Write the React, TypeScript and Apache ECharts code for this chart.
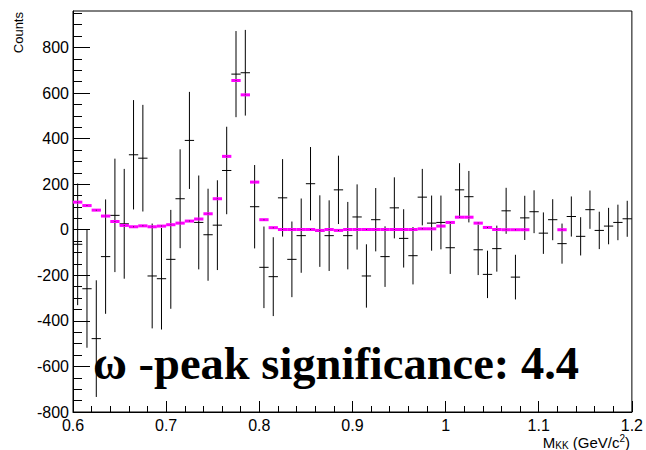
import React, { useEffect, useRef } from "react";
import * as echarts from "echarts";

// Bin centres (GeV/c^2), 60 bins of width 0.01 from 0.6 to 1.2
const binCenters = [
  0.605, 0.615, 0.625, 0.635, 0.645, 0.655, 0.665, 0.675, 0.685, 0.695,
  0.705, 0.715, 0.725, 0.735, 0.745, 0.755, 0.765, 0.775, 0.785, 0.795,
  0.805, 0.815, 0.825, 0.835, 0.845, 0.855, 0.865, 0.875, 0.885, 0.895,
  0.905, 0.915, 0.925, 0.935, 0.945, 0.955, 0.965, 0.975, 0.985, 0.995,
  1.005, 1.015, 1.025, 1.035, 1.045, 1.055, 1.065, 1.075, 1.085, 1.095,
  1.105, 1.115, 1.125, 1.135, 1.145, 1.155, 1.165, 1.175, 1.185, 1.195,
];
const BIN_WIDTH = 0.01;

// Measured counts (black points)
const counts = [
  -64, -259, -478, -118, 63, 26, 329, 314, -203, -215,
  -130, 136, 392, 32, -22, 20, 260, 683, 689, 101,
  -165, -206, 140, -130, -26, 202, -6, -26, 175, -26,
  56, -203, 44, -118, 96, -38, -114, 143, 29, 32,
  -79, 175, 145, -88, -196, -83, 83, -208, 52, 79,
  -15, 44, -61, 58, -29, 88, -3, 16, 32, 48,
];

// Statistical errors of the counts
const errors = [
  267, 259, 256, 251, 249, 241, 240, 234, 230, 223,
  217, 217, 213, 206, 202, 197, 192, 189, 188, 183,
  179, 173, 170, 166, 163, 161, 157, 155, 150, 148,
  143, 139, 139, 133, 134, 128, 126, 124, 121, 118,
  115, 117, 113, 111, 104, 101, 101, 98, 97, 94,
  91, 90, 88, 88, 84, 84, 82, 80, 78, 79,
];

// Model histogram (magenta); null = not drawn
const model: (number | null)[] = [
  121, 106, 86, 60, 36, 19, 13, 17, 13, 16,
  22, 29, 38, 47, 70, 136, 322, 655, 592, 209,
  44, 9, 1, 1, 1, 1, -3, 1, -3, 1,
  1, 1, 1, 1, 1, 1, 1, 4, 4, 16,
  32, 55, 55, 29, 10, 1, 0, 0, 0, null,
  null, null, 0, null, null, null, null, null, null, null,
];

const xMajorTicks = [0.6, 0.7, 0.8, 0.9, 1.0, 1.1, 1.2];
const xMinorTicks = [
  0.62, 0.64, 0.66, 0.68, 0.72, 0.74, 0.76, 0.78, 0.82, 0.84, 0.86, 0.88,
  0.92, 0.94, 0.96, 0.98, 1.02, 1.04, 1.06, 1.08, 1.12, 1.14, 1.16, 1.18,
];
const yMajorTicks = [-800, -600, -400, -200, 0, 200, 400, 600, 800];
const yMinorTicks = [
  -750, -700, -650, -550, -500, -450, -350, -300, -250, -150, -100, -50,
  50, 100, 150, 250, 300, 350, 450, 500, 550, 650, 700, 750, 850, 900, 950,
];

const X_MIN = 0.6;
const X_MAX = 1.2;
const Y_MIN = -800;
const Y_MAX = 960;

const labelFont = "Liberation Sans";

// x-axis title pieces: [text, role]
const xTitleParts: [string, "main" | "sub" | "sup"][] = [
  ["M", "main"],
  ["KK", "sub"],
  [" (GeV/c", "main"],
  ["2", "sup"],
  [")", "main"],
];

export default function App() {
  const ref = useRef<HTMLDivElement>(null);

  useEffect(() => {
    if (!ref.current) return;
    const chart = echarts.init(ref.current, undefined, { renderer: "svg" });

    const pointData = binCenters.map((x, i) => [x, counts[i], errors[i]]);
    const modelData = binCenters
      .map((x, i) => [x, model[i]])
      .filter((d) => d[1] !== null);

    const xFmt = (v: number) => String(parseFloat(Number(v).toFixed(2)));

    // lay out the x title (right-aligned) with measured widths
    const MAIN_SIZE = 15;
    const SMALL_SIZE = 10;
    const TITLE_RIGHT = 630;
    const MAIN_Y = 442;
    const canvas = document.createElement("canvas");
    const ctx = canvas.getContext("2d");
    const measure = (t: string, size: number) => {
      if (!ctx) return t.length * size * 0.55;
      ctx.font = `${size}px "${labelFont}"`;
      return ctx.measureText(t).width;
    };
    const sizes = xTitleParts.map(([t, r]) => (r === "main" ? MAIN_SIZE : SMALL_SIZE));
    const widths = xTitleParts.map(([t], i) => measure(t, sizes[i]));
    const total = widths.reduce((a, b) => a + b, 0);
    let cursor = TITLE_RIGHT - total;
    const titleElems = xTitleParts.map(([t, r], i) => {
      const el = {
        type: "text",
        x: cursor,
        y: r === "main" ? MAIN_Y : r === "sub" ? MAIN_Y + 3.5 : MAIN_Y - 4,
        style: {
          text: t,
          fontFamily: labelFont,
          fontSize: sizes[i],
          fill: "#000",
          align: "left",
          verticalAlign: "middle",
        },
      };
      cursor += widths[i];
      return el;
    });

    const option: any = {
      animation: false,
      backgroundColor: "#ffffff",
      grid: {
        left: 73,
        right: 14,
        top: 11,
        bottom: 38,
        show: true,
        borderColor: "#000",
        borderWidth: 1,
        backgroundColor: "transparent",
      },
      xAxis: [
        {
          type: "value",
          min: X_MIN,
          max: X_MAX,
          interval: 0.1,
          position: "bottom",
          axisLine: { show: true, onZero: false, lineStyle: { color: "#000", width: 1 } },
          axisTick: {
            show: true,
            inside: true,
            length: 11,
            customValues: xMajorTicks,
            lineStyle: { color: "#000", width: 1 },
          },
          axisLabel: {
            show: true,
            customValues: xMajorTicks,
            formatter: xFmt,
            fontFamily: labelFont,
            fontSize: 16,
            lineHeight: 14,
            color: "#000",
            margin: 6,
            showMinLabel: true,
            showMaxLabel: true,
          },
          splitLine: { show: false },
        },
        {
          type: "value",
          min: X_MIN,
          max: X_MAX,
          position: "bottom",
          axisLine: { show: false, onZero: false },
          axisTick: {
            show: true,
            inside: true,
            length: 6,
            customValues: xMinorTicks,
            lineStyle: { color: "#000", width: 1 },
          },
          axisLabel: { show: false },
          splitLine: { show: false },
        },
      ],
      yAxis: [
        {
          type: "value",
          min: Y_MIN,
          max: Y_MAX,
          position: "left",
          axisLine: { show: true, onZero: false, lineStyle: { color: "#000", width: 1 } },
          axisTick: {
            show: true,
            inside: true,
            length: 17,
            customValues: yMajorTicks,
            lineStyle: { color: "#000", width: 1 },
          },
          axisLabel: {
            show: true,
            customValues: yMajorTicks,
            fontFamily: labelFont,
            fontSize: 16,
            color: "#000",
            margin: 4,
          },
          splitLine: { show: false },
        },
        {
          type: "value",
          min: Y_MIN,
          max: Y_MAX,
          position: "left",
          axisLine: { show: false, onZero: false },
          axisTick: {
            show: true,
            inside: true,
            length: 9,
            customValues: yMinorTicks,
            lineStyle: { color: "#000", width: 1 },
          },
          axisLabel: { show: false },
          splitLine: { show: false },
        },
      ],
      series: [
        {
          type: "custom",
          name: "data",
          xAxisIndex: 0,
          yAxisIndex: 0,
          encode: { x: 0, y: 1 },
          data: pointData,
          z: 2,
          renderItem: (params: any, api: any) => {
            const x = api.value(0);
            const y = api.value(1);
            const e = api.value(2);
            const halfW = api.size([BIN_WIDTH, 0])[0] / 2;
            const c = api.coord([x, y]);
            const top = api.coord([x, y + e]);
            const bot = api.coord([x, y - e]);
            const style = { stroke: "#000", lineWidth: 1, fill: null };
            return {
              type: "group",
              children: [
                {
                  type: "line",
                  shape: { x1: c[0], y1: top[1], x2: c[0], y2: bot[1] },
                  style,
                },
                {
                  type: "line",
                  shape: { x1: c[0] - halfW, y1: c[1], x2: c[0] + halfW, y2: c[1] },
                  style,
                },
              ],
            };
          },
        },
        {
          type: "custom",
          name: "model",
          xAxisIndex: 0,
          yAxisIndex: 0,
          encode: { x: 0, y: 1 },
          data: modelData,
          z: 3,
          renderItem: (params: any, api: any) => {
            const x = api.value(0);
            const y = api.value(1);
            const halfW = api.size([BIN_WIDTH, 0])[0] / 2;
            const c = api.coord([x, y]);
            return {
              type: "group",
              children: [
                {
                  type: "line",
                  shape: { x1: c[0] - halfW, y1: c[1], x2: c[0] + halfW, y2: c[1] },
                  style: { stroke: "#ff00ff", lineWidth: 3, fill: null },
                },
                {
                  type: "rect",
                  shape: { x: c[0] - 0.5, y: c[1] - 0.5, width: 1, height: 1 },
                  style: { fill: "#333" },
                },
              ],
            };
          },
        },
      ],
      graphic: [
        {
          type: "text",
          x: 18,
          y: 12,
          rotation: Math.PI / 2,
          style: {
            text: "Counts",
            fontFamily: labelFont,
            fontSize: 13,
            fill: "#000",
            align: "right",
            verticalAlign: "middle",
          },
        },
        ...titleElems,
        {
          type: "text",
          x: 93,
          y: 363,
          style: {
            text: "ω -peak significance: 4.4",
            fontFamily: "Liberation Serif",
            fontWeight: "bold",
            fontSize: 46.5,
            fill: "#000",
            align: "left",
            verticalAlign: "middle",
          },
        },
      ],
    };

    chart.setOption(option);
    return () => {
      chart.dispose();
    };
  }, []);

  return (
    <div
      ref={ref}
      style={{ position: "fixed", left: 0, top: 0, width: 646, height: 450 }}
    />
  );
}
